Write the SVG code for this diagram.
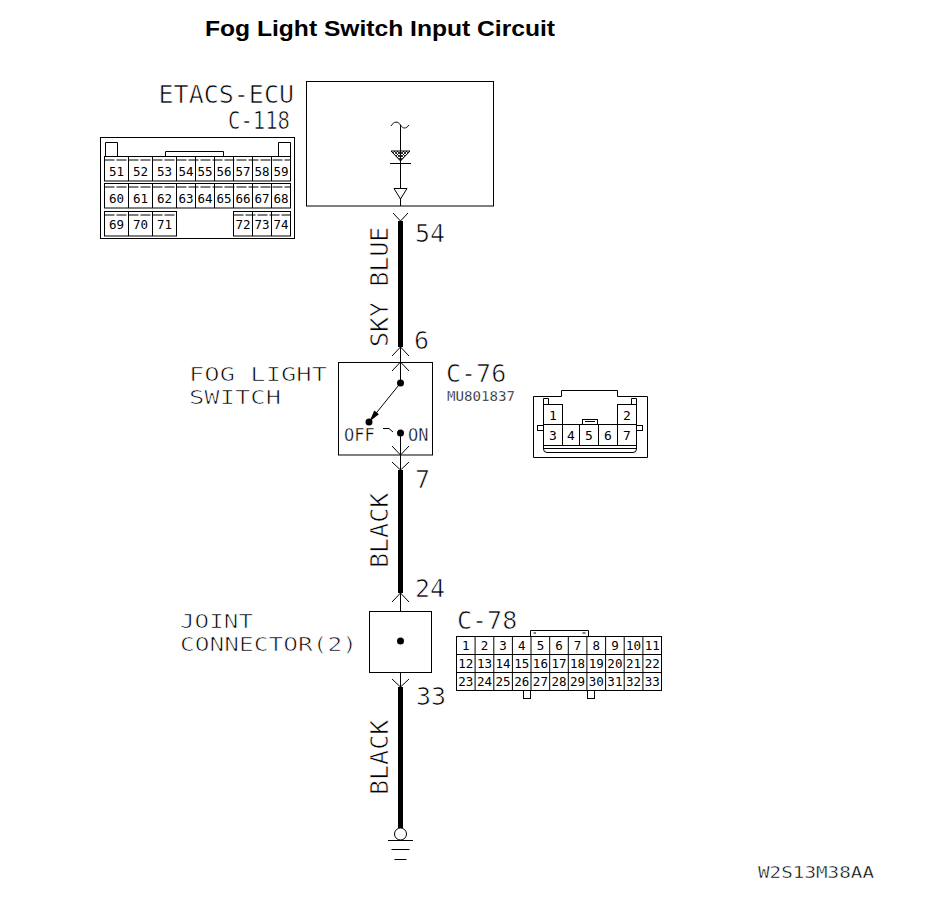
<svg xmlns="http://www.w3.org/2000/svg" width="928" height="910" viewBox="0 0 928 910">
<style>
.ln{fill:none;stroke:#000;stroke-width:1}
.wire{fill:none;stroke:#000;stroke-width:5}
.t{font-family:"DejaVu Sans Mono","Liberation Mono",monospace;fill:#000;font-size:25px;stroke:#fff;stroke-width:0.7px}
.n{font-family:"DejaVu Sans Mono","Liberation Mono",monospace;fill:#000;font-size:12.5px;text-anchor:middle}
.title{font-family:"Liberation Sans",Arial,sans-serif;font-weight:bold;font-size:22px;fill:#000}
.lab2{font-size:19.5px}
</style>
<defs>
<pattern id="hatch" width="3" height="3" patternUnits="userSpaceOnUse">
<path d="M0,0 L3,3 M3,0 L0,3" stroke="#000" stroke-width="0.8"/>
</pattern>
</defs>
<rect width="928" height="910" fill="#fff"/>
<text class="title" x="205" y="36" textLength="350" lengthAdjust="spacingAndGlyphs">Fog Light Switch Input Circuit</text>

<g id="connectors">
<line class="wire" x1="400.5" y1="221" x2="400.5" y2="347"/>
<line class="wire" x1="400.5" y1="470" x2="400.5" y2="593"/>
<line class="wire" x1="400.5" y1="687" x2="400.5" y2="828"/>
<path class="ln" d="M393,213 L400.5,221 L408,213"/>
<path class="ln" d="M392,356 L400.5,347 L409,356 M400.5,347 V362"/>
<path class="ln" d="M392,462 L400.5,470 L409,462 M400.5,455 V470"/>
<path class="ln" d="M392,602 L400.5,593 L409,602 M400.5,593 V612"/>
<path class="ln" d="M392,679 L400.5,687 L409,679 M400.5,672 V687"/>
<text class="t" transform="translate(388,347) rotate(-90)">SKY BLUE</text>
<text class="t" transform="translate(388,568) rotate(-90)">BLACK</text>
<text class="t" transform="translate(388,795) rotate(-90)">BLACK</text>
<text class="t" x="415" y="242">54</text>
<text class="t" x="414" y="349">6</text>
<text class="t" x="415" y="488">7</text>
<text class="t" x="415" y="597">24</text>
<text class="t" x="416" y="705">33</text>
</g>

<g id="etacs-ecu">
<rect class="ln" x="306.5" y="81.5" width="187" height="124.5"/>
<path class="ln" d="M391,126 C394,121 398,121 400.5,125 C403,129 406,129 409,125"/>
<line class="ln" x1="400.5" y1="125" x2="400.5" y2="206"/>
<polygon points="391,151 410,151 400.5,161" fill="url(#hatch)" stroke="#000" stroke-width="1"/>
<line class="ln" x1="390" y1="163.5" x2="411" y2="163.5"/>
<polygon points="394,188.5 407,188.5 400.5,199" fill="#fff" stroke="#000" stroke-width="1"/>
<text class="t" x="294" y="103" text-anchor="end">ETACS-ECU</text>
<text class="t" x="228" y="129" textLength="62" lengthAdjust="spacingAndGlyphs">C-118</text>
</g>

<g id="c-118">
<rect class="ln" x="100.5" y="137.5" width="194" height="101"/>
<path class="ln" d="M105.5,156 V142.5 H117.5 V156 M278.5,156 V142.5 H290.5 V156 M165.5,156 V151.5 H223.5 V156"/>
<rect class="ln" x="104.5" y="156.5" width="186" height="24.5"/>
<line class="ln" x1="104.5" y1="160" x2="290.5" y2="160" stroke-dasharray="10,2"/>
<path class="ln" d="M128.5,156.5 V181 M152.5,156.5 V181 M176.5,156.5 V181 M195.5,156.5 V181 M214.5,156.5 V181 M233.5,156.5 V181 M252.5,156.5 V181 M271.5,156.5 V181"/>
<rect class="ln" x="104.5" y="183.5" width="186" height="24.5"/>
<line class="ln" x1="104.5" y1="187" x2="290.5" y2="187" stroke-dasharray="10,2"/>
<path class="ln" d="M128.5,183.5 V208 M152.5,183.5 V208 M176.5,183.5 V208 M195.5,183.5 V208 M214.5,183.5 V208 M233.5,183.5 V208 M252.5,183.5 V208 M271.5,183.5 V208"/>
<rect class="ln" x="104.5" y="211.5" width="72" height="24.5"/>
<rect class="ln" x="233.5" y="211.5" width="57" height="24.5"/>
<line class="ln" x1="104.5" y1="215" x2="176.5" y2="215" stroke-dasharray="10,2"/>
<line class="ln" x1="233.5" y1="215" x2="290.5" y2="215" stroke-dasharray="10,2"/>
<path class="ln" d="M128.5,211.5 V236 M152.5,211.5 V236 M252.5,211.5 V236 M271.5,211.5 V236"/>
<text class="n" x="116.5" y="176">51</text><text class="n" x="140.5" y="176">52</text><text class="n" x="164.5" y="176">53</text><text class="n" x="186" y="176">54</text><text class="n" x="205" y="176">55</text><text class="n" x="224" y="176">56</text><text class="n" x="243" y="176">57</text><text class="n" x="262" y="176">58</text><text class="n" x="281" y="176">59</text>
<text class="n" x="116.5" y="203">60</text><text class="n" x="140.5" y="203">61</text><text class="n" x="164.5" y="203">62</text><text class="n" x="186" y="203">63</text><text class="n" x="205" y="203">64</text><text class="n" x="224" y="203">65</text><text class="n" x="243" y="203">66</text><text class="n" x="262" y="203">67</text><text class="n" x="281" y="203">68</text>
<text class="n" x="116.5" y="229">69</text><text class="n" x="140.5" y="229">70</text><text class="n" x="164.5" y="229">71</text><text class="n" x="243" y="229">72</text><text class="n" x="262" y="229">73</text><text class="n" x="281" y="229">74</text>
</g>

<g id="fog-light-switch">
<rect class="ln" x="338.5" y="362.5" width="94" height="92.5"/>
<path class="ln" d="M392,371 L400.5,362 L409,371 M400.5,362 V383"/>
<path class="ln" d="M392,446 L400.5,455 L409,446 M400.5,433 V455"/>
<circle cx="400.5" cy="383" r="3.5" fill="#000"/>
<line class="ln" x1="400.5" y1="383" x2="371" y2="419.5"/>
<polygon points="369.5,421.5 378.9,414.3 374.3,410.6" fill="#000"/>
<circle cx="369" cy="422" r="3.5" fill="#000"/>
<path class="ln" d="M383,428.5 H389 L393,432"/>
<circle cx="400.5" cy="433" r="3.5" fill="#000"/>
<text class="t" x="344" y="441" style="font-size:17px;stroke-width:0.4px">OFF</text>
<text class="t" x="408" y="441" style="font-size:17px;stroke-width:0.4px">ON</text>
<text class="t lab2" x="189" y="381" textLength="138" lengthAdjust="spacingAndGlyphs">FOG LIGHT</text>
<text class="t lab2" x="189" y="404" textLength="92" lengthAdjust="spacingAndGlyphs">SWITCH</text>
<text class="t" x="446" y="382">C-76</text>
<text class="t" x="447" y="401" style="font-size:14px;stroke-width:0.3px" textLength="68" lengthAdjust="spacingAndGlyphs">MU801837</text>
</g>

<g id="c-76">
<path class="ln" d="M533.5,457.5 V396.5 H561.5 V390.5 H617.5 V396.5 H647.5 V457.5 Z"/>
<rect class="ln" x="543.5" y="404.5" width="19" height="20"/>
<rect class="ln" x="617.5" y="404.5" width="19" height="20"/>
<path class="ln" d="M543.5,404.5 V398.5 H548.5 V404.5 M636.5,404.5 V398.5 H631.5 V404.5"/>
<rect class="ln" x="543.5" y="424.5" width="93" height="21"/>
<path class="ln" d="M562.5,424.5 V445.5 M579.5,424.5 V445.5 M598.5,424.5 V445.5 M617.5,424.5 V445.5"/>
<rect class="ln" x="582.5" y="419.5" width="15" height="5"/>
<line class="ln" x1="585" y1="421.5" x2="595" y2="421.5"/>
<rect class="ln" x="537.5" y="425.5" width="6" height="5"/>
<rect class="ln" x="636.5" y="425.5" width="6" height="5"/>
<line class="ln" x1="543.5" y1="448.5" x2="636.5" y2="448.5"/>
<path class="ln" d="M543.5,445.5 V449 Q543.5,452.5 547,452.5 H633 Q636.5,452.5 636.5,449 V445.5"/>
<text class="n" x="553" y="420" style="font-size:13px">1</text>
<text class="n" x="627" y="420" style="font-size:13px">2</text>
<text class="n" x="553" y="440" style="font-size:13px">3</text>
<text class="n" x="571" y="440" style="font-size:13px">4</text>
<text class="n" x="589" y="440" style="font-size:13px">5</text>
<text class="n" x="608" y="440" style="font-size:13px">6</text>
<text class="n" x="627" y="440" style="font-size:13px">7</text>
</g>

<g id="joint-connector">
<rect class="ln" x="369.5" y="611.5" width="62" height="61"/>
<circle cx="400.5" cy="641" r="3.5" fill="#000"/>
<text class="t lab2" x="180" y="628" textLength="73" lengthAdjust="spacingAndGlyphs">JOINT</text>
<text class="t lab2" x="180" y="651" textLength="177" lengthAdjust="spacingAndGlyphs">CONNECTOR(2)</text>
<text class="t" x="457" y="629">C-78</text>
</g>

<g id="c-78">
<path class="ln" d="M530.5,636 V630.5 H588.5 V636 M533.5,633 H536 M582.5,633 H585.5"/>
<rect class="ln" x="456.5" y="636.5" width="205" height="54"/>
<path class="ln" d="M456.5,654.5 H661.5 M456.5,672.5 H661.5"/>
<path class="ln" d="M475.1,636.5 V690.5 M493.8,636.5 V690.5 M512.4,636.5 V690.5 M531,636.5 V690.5 M549.7,636.5 V690.5 M568.3,636.5 V690.5 M586.9,636.5 V690.5 M605.6,636.5 V690.5 M624.2,636.5 V690.5 M642.9,636.5 V690.5"/>
<rect class="ln" x="523.5" y="690.5" width="7" height="8"/>
<rect class="ln" x="587.5" y="690.5" width="7" height="8"/>
<text class="n" x="465.8" y="650">1</text><text class="n" x="484.5" y="650">2</text><text class="n" x="503.1" y="650">3</text><text class="n" x="521.7" y="650">4</text><text class="n" x="540.4" y="650">5</text><text class="n" x="559" y="650">6</text><text class="n" x="577.6" y="650">7</text><text class="n" x="596.3" y="650">8</text><text class="n" x="614.9" y="650">9</text><text class="n" x="633.5" y="650">10</text><text class="n" x="652.2" y="650">11</text>
<text class="n" x="465.8" y="668">12</text><text class="n" x="484.5" y="668">13</text><text class="n" x="503.1" y="668">14</text><text class="n" x="521.7" y="668">15</text><text class="n" x="540.4" y="668">16</text><text class="n" x="559" y="668">17</text><text class="n" x="577.6" y="668">18</text><text class="n" x="596.3" y="668">19</text><text class="n" x="614.9" y="668">20</text><text class="n" x="633.5" y="668">21</text><text class="n" x="652.2" y="668">22</text>
<text class="n" x="465.8" y="686">23</text><text class="n" x="484.5" y="686">24</text><text class="n" x="503.1" y="686">25</text><text class="n" x="521.7" y="686">26</text><text class="n" x="540.4" y="686">27</text><text class="n" x="559" y="686">28</text><text class="n" x="577.6" y="686">29</text><text class="n" x="596.3" y="686">30</text><text class="n" x="614.9" y="686">31</text><text class="n" x="633.5" y="686">32</text><text class="n" x="652.2" y="686">33</text>
</g>

<g id="ground">
<circle class="ln" cx="400.5" cy="834" r="6"/>
<path class="ln" d="M388,840.5 H413 M391.5,849.5 H409.5 M394.5,859.5 H406.5"/>
</g>

<text class="t" x="758" y="878" style="font-size:16px;stroke-width:0.4px" textLength="116" lengthAdjust="spacingAndGlyphs">W2S13M38AA</text>
</svg>
